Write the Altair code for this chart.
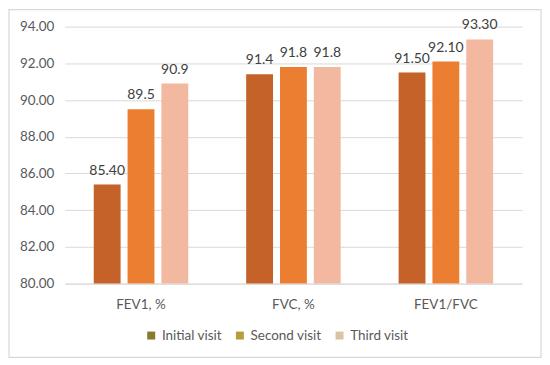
import altair as alt
import pandas as pd

categories = ["FEV1, %", "FVC, %", "FEV1/FVC"]
series = ["Initial visit", "Second visit", "Third visit"]
initial = [85.40, 91.4, 91.50]
second = [89.5, 91.8, 92.10]
third = [90.9, 91.8, 93.30]
initial_lbl = ["85.40", "91.4", "91.50"]
second_lbl = ["89.5", "91.8", "92.10"]
third_lbl = ["90.9", "91.8", "93.30"]
y_ticks = [80, 82, 84, 86, 88, 90, 92, 94]

bar_colors = ["#C4622A", "#EC7E32", "#F2B8A0"]
legend_colors = ["#877B2B", "#B69E3B", "#D9C4A2"]

rows = []
for s, vals, lbls in [(series[0], initial, initial_lbl),
                      (series[1], second, second_lbl),
                      (series[2], third, third_lbl)]:
    for c, v, l in zip(categories, vals, lbls):
        rows.append({"category": c, "series": s, "value": v, "label": l})
df = pd.DataFrame(rows)

W, H = 459, 258
FONT = "Lato"

x = alt.X("category:N", sort=categories, title=None,
          scale=alt.Scale(paddingInner=0.38, paddingOuter=0.19),
          axis=alt.Axis(labelAngle=0, labelPadding=14, ticks=False,
                        domainColor="#d9d9d9", labelColor="#595959",
                        labelFontSize=13.5, labelFont=FONT))
xo = alt.XOffset("series:N", sort=series,
                 scale=alt.Scale(paddingInner=0.206, paddingOuter=0))
y = alt.Y("value:Q", title=None,
          scale=alt.Scale(domain=[80, 94], zero=False, nice=False),
          axis=alt.Axis(values=y_ticks, format=".2f", domain=False, ticks=False,
                        gridColor="#d9d9d9", labelColor="#595959",
                        labelFontSize=13.5, labelFont=FONT, labelPadding=11))

base = alt.Chart(df)

bars = base.mark_bar().encode(
    x=x, xOffset=xo, y=y, y2=alt.datum(80),
    color=alt.Color("series:N", sort=series,
                    scale=alt.Scale(domain=series, range=bar_colors), legend=None),
)

labels = base.mark_text(dy=-14, fontSize=14, font=FONT, color="#404040").encode(
    x=x, xOffset=xo, y=y, text="label:N",
)

legend_layer = base.mark_square(opacity=0).encode(
    x=x, xOffset=xo, y=y,
    fill=alt.Fill("series:N", sort=series,
                  scale=alt.Scale(domain=series, range=legend_colors),
                  legend=alt.Legend(title=None, orient="none", direction="horizontal",
                                    legendX=80, legendY=H + 45,
                                    symbolOpacity=1, symbolType="square",
                                    symbolSize=64, symbolStrokeWidth=0,
                                    labelFontSize=13.5, labelFont=FONT,
                                    labelColor="#595959", columnPadding=11,
                                    labelOffset=4)),
)

frame = alt.Chart(pd.DataFrame({"a": [0]})).mark_rect(
    fill=None, stroke="#d9d9d9", strokeWidth=1.2
).encode(x=alt.value(-56), x2=alt.value(W + 19), y=alt.value(-17), y2=alt.value(H + 74))

chart = alt.layer(frame, bars, labels, legend_layer).resolve_scale(
    color="independent", fill="independent"
).properties(width=W, height=H, background="white", padding=0).configure_view(stroke=None)

chart.save("out.html", embed_options={"renderer": "svg", "actions": False})
